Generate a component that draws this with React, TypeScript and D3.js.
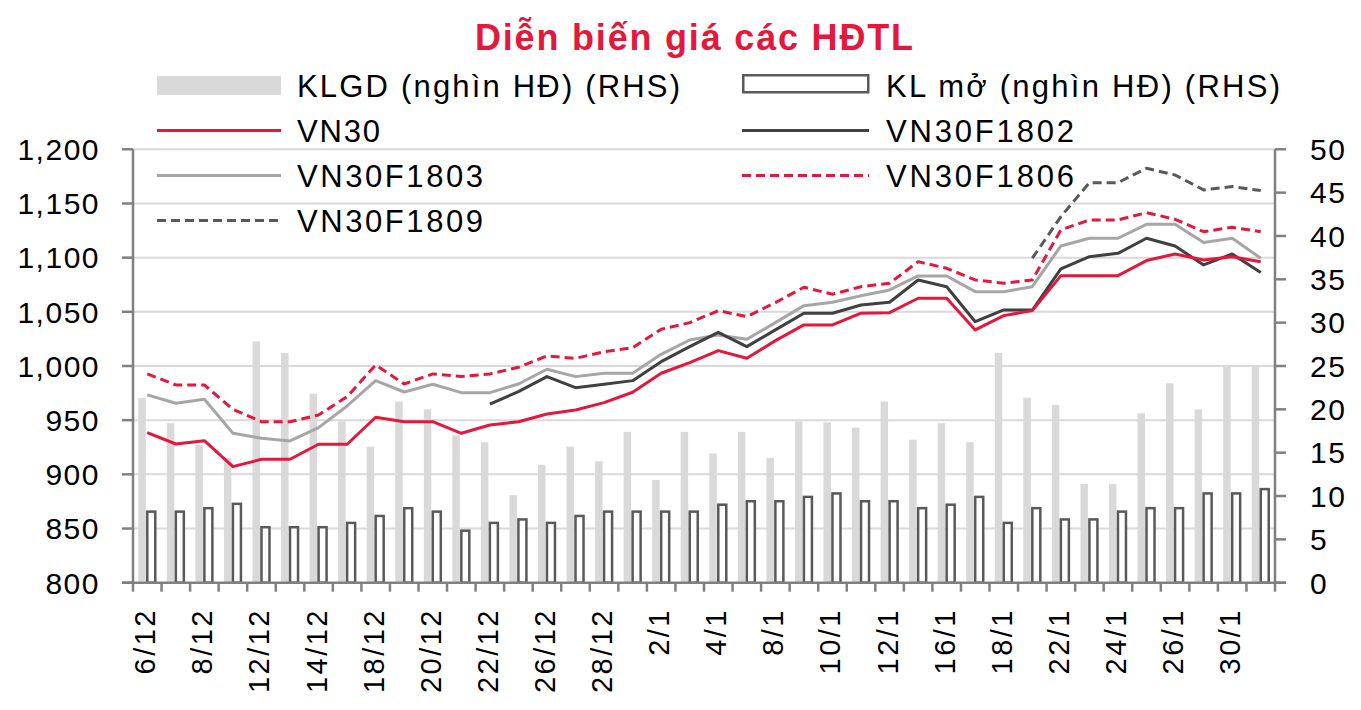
import React from "react";
import * as d3 from "d3";

const dates = [
  "6/12", "7/12", "8/12", "11/12", "12/12", "13/12", "14/12", "15/12", "18/12", "19/12",
  "20/12", "21/12", "22/12", "25/12", "26/12", "27/12", "28/12", "29/12", "2/1", "3/1",
  "4/1", "5/1", "8/1", "9/1", "10/1", "11/1", "12/1", "15/1", "16/1", "17/1",
  "18/1", "19/1", "22/1", "23/1", "24/1", "25/1", "26/1", "29/1", "30/1", "31/1",
];

// KLGD (nghìn HĐ) (RHS)
const klgd = [
  21.3, 18.4, 15.9, 14.4, 27.8, 26.5, 21.8, 18.6, 15.7, 20.9,
  20.0, 17.0, 16.2, 10.1, 13.6, 15.7, 14.0, 17.4, 11.85, 17.4,
  14.9, 17.4, 14.4, 18.6, 18.5, 17.9, 20.9, 16.5, 18.4, 16.2,
  26.5, 21.35, 20.5, 11.4, 11.4, 19.55, 23.0, 20.0, 24.9, 24.9,
];

// KL mở (nghìn HĐ) (RHS)
const klMo = [
  8.2, 8.2, 8.6, 9.1, 6.4, 6.4, 6.4, 6.9, 7.7, 8.6,
  8.2, 6.0, 6.9, 7.3, 6.9, 7.7, 8.2, 8.2, 8.2, 8.2,
  9.0, 9.4, 9.4, 9.9, 10.3, 9.4, 9.4, 8.6, 9.0, 9.9,
  6.9, 8.6, 7.3, 7.3, 8.2, 8.6, 8.6, 10.3, 10.3, 10.8,
];

const vn30 = [
  938.5, 928.0, 931.1, 907.1, 913.9, 913.9, 927.8, 927.8, 952.7, 948.6,
  948.6, 937.9, 945.6, 948.6, 955.7, 959.4, 966.2, 975.8, 993.3, 1003.1,
  1014.2, 1007.1, 1023.4, 1037.9, 1037.9, 1048.7, 1049.2, 1062.5, 1062.5, 1033.3,
  1046.5, 1051.1, 1083.4, 1083.4, 1083.4, 1097.3, 1103.4, 1097.9, 1100.9, 1096.3,
];

const f1802: (number | null)[] = [
  null, null, null, null, null, null, null, null, null, null,
  null, null, 964.9, 976.3, 990.2, 980.0, 983.1, 986.5, 1004.0, 1017.9,
  1031.1, 1017.9, 1033.3, 1048.7, 1048.7, 1056.3, 1058.8, 1079.4, 1073.2, 1040.9,
  1051.7, 1051.7, 1089.6, 1100.9, 1104.0, 1117.9, 1110.8, 1093.3, 1103.4, 1086.2,
];

const f1803 = [
  973.3, 965.6, 969.3, 937.9, 933.3, 930.8, 943.1, 963.1, 986.5, 976.0,
  983.1, 975.4, 975.4, 983.4, 997.0, 990.2, 993.3, 993.3, 1010.8, 1024.0,
  1028.6, 1024.7, 1040.0, 1055.7, 1058.8, 1064.9, 1070.2, 1083.1, 1083.1, 1068.6,
  1068.6, 1073.2, 1110.8, 1117.9, 1117.9, 1130.8, 1130.8, 1113.9, 1117.9, 1099.5,
];

const f1806 = [
  992.7, 982.5, 982.5, 960.0, 948.6, 948.6, 954.8, 971.7, 1001.0, 983.4,
  992.7, 990.2, 992.7, 998.8, 1009.3, 1007.1, 1013.2, 1016.9, 1033.9, 1040.0,
  1051.1, 1045.6, 1058.5, 1072.7, 1066.2, 1073.2, 1076.4, 1096.3, 1090.2, 1079.4,
  1076.4, 1079.4, 1125.6, 1134.8, 1134.8, 1141.5, 1135.4, 1124.0, 1128.0, 1124.0,
];

const f1809: (number | null)[] = [
  null, null, null, null, null, null, null, null, null, null,
  null, null, null, null, null, null, null, null, null, null,
  null, null, null, null, null, null, null, null, null, null,
  null, 1099.5, 1137.9, 1169.2, 1169.2, 1182.5, 1176.3, 1162.5, 1165.6, 1161.9,
];

const leftTicks = [800, 850, 900, 950, 1000, 1050, 1100, 1150, 1200];
const rightTicks = [0, 5, 10, 15, 20, 25, 30, 35, 40, 45, 50];

const title = "Diễn biến giá các HĐTL";

const RED = "#e2193c";
const AXIS = "#808080";
const GRID = "#d9d9d9";
const FONT = "'Liberation Sans', Arial, sans-serif";

export default function App() {
  const left = 133, right = 1275, top = 149.3, bottom = 582.7;
  const x = d3.scaleBand<string>().domain(dates).range([left, right]).padding(0);
  const yL = d3.scaleLinear().domain([800, 1200]).range([bottom, top]);
  const yR = d3.scaleLinear().domain([0, 50]).range([bottom, top]);
  const bw = x.bandwidth();
  const cx = (i: number) => (x(dates[i]) as number) + bw / 2;
  const fmt = d3.format(",");

  const line = d3
    .line<number | null>()
    .defined((v) => v != null)
    .x((_, i) => cx(i))
    .y((v) => yL(v as number));

  const series = [
    { name: "VN30F1803", data: f1803, color: "#a6a6a6", dash: undefined },
    { name: "VN30F1806", data: f1806, color: RED, dash: "9,5" },
    { name: "VN30F1809", data: f1809, color: "#595959", dash: "9,5" },
    { name: "VN30F1802", data: f1802, color: "#404040", dash: undefined },
    { name: "VN30", data: vn30, color: RED, dash: undefined },
  ];

  const boundaries = d3.range(dates.length + 1).map((i) => left + i * bw);

  const legendRows = [85.5, 130.5, 175.5, 220.5];
  const lx1 = 157, lx2 = 281, rx1 = 742, rx2 = 869;
  const ltx = 297, rtx = 886;
  const lfs = 31;

  return (
    <svg
      width={1361}
      height={710}
      style={{ position: "absolute", left: 0, top: 0, background: "#fff" }}
      fontFamily={FONT}
    >
      <rect x={0} y={0} width={1361} height={710} fill="#fff" />
      {/* Title */}
      <text x={475} y={50} fontSize={36} fontWeight="bold" fill={RED} textLength={438} lengthAdjust="spacing">
        {title}
      </text>

      {/* gridlines */}
      {leftTicks.slice(1).map((t) => (
        <line key={"g" + t} x1={left} x2={right} y1={yL(t)} y2={yL(t)} stroke={GRID} strokeWidth={2} />
      ))}

      {/* KLGD bars */}
      {klgd.map((v, i) => (
        <rect key={"b" + i} x={cx(i) - 9} width={7.5} y={yR(v)} height={yR(0) - yR(v)} fill="#d9d9d9" />
      ))}
      {/* KL mo bars */}
      {klMo.map((v, i) => (
        <rect
          key={"o" + i}
          x={cx(i)}
          width={8}
          y={yR(v)}
          height={yR(0) - yR(v)}
          fill="#fff"
          stroke="#595959"
          strokeWidth={2.5}
        />
      ))}

      {/* axes */}
      <g stroke={AXIS} strokeWidth={2.5}>
        <line x1={left} x2={left} y1={top} y2={bottom} />
        <line x1={right} x2={right} y1={top} y2={bottom} />
        <line x1={left - 11} x2={right + 11} y1={bottom} y2={bottom} />
        {leftTicks.map((t) => (
          <line key={"lt" + t} x1={left - 11} x2={left} y1={yL(t)} y2={yL(t)} />
        ))}
        {rightTicks.map((t) => (
          <line key={"rt" + t} x1={right} x2={right + 11} y1={yR(t)} y2={yR(t)} />
        ))}
        {boundaries.map((b, i) => (
          <line key={"bt" + i} x1={b} x2={b} y1={bottom} y2={bottom + 9} />
        ))}
      </g>

      {/* lines */}
      {series.map((s) => (
        <path
          key={s.name}
          d={line(s.data) || ""}
          fill="none"
          stroke={s.color}
          strokeWidth={3}
          strokeDasharray={s.dash}
          strokeLinejoin="round"
        />
      ))}

      {/* tick labels */}
      {leftTicks.map((t) => (
        <text key={"ll" + t} x={100} y={yL(t)} dy="0.36em" textAnchor="end" fontSize={30} letterSpacing={1.5} fill="#000">
          {fmt(t)}
        </text>
      ))}
      {rightTicks.map((t) => (
        <text key={"rl" + t} x={1310} y={yR(t)} dy="0.36em" textAnchor="start" fontSize={30} letterSpacing={1.5} fill="#000">
          {t}
        </text>
      ))}
      {dates.map((d, i) =>
        i % 2 === 0 ? (
          <text
            key={"xl" + i}
            transform={`translate(${cx(i) - 2.5},608) rotate(-90)`}
            dy="0.36em"
            textAnchor="end"
            fontSize={29}
            letterSpacing={2.5}
            fill="#000"
          >
            {d}
          </text>
        ) : null
      )}

      {/* legend */}
      <rect x={lx1} y={76} width={lx2 - lx1} height={19} fill="#d9d9d9" />
      <text x={ltx} y={legendRows[0] + 11} fontSize={lfs} textLength={383} lengthAdjust="spacing">
        KLGD (nghìn HĐ) (RHS)
      </text>
      <rect x={743.25} y={75.25} width={125} height={17} fill="#fff" stroke="#595959" strokeWidth={2.5} />
      <text x={rtx} y={legendRows[0] + 11} fontSize={lfs} textLength={394} lengthAdjust="spacing">
        KL mở (nghìn HĐ) (RHS)
      </text>

      <line x1={lx1} x2={lx2} y1={legendRows[1]} y2={legendRows[1]} stroke={RED} strokeWidth={3} />
      <text x={ltx} y={legendRows[1] + 11} fontSize={lfs} textLength={83} lengthAdjust="spacing">VN30</text>
      <line x1={rx1} x2={rx2} y1={legendRows[1]} y2={legendRows[1]} stroke="#404040" strokeWidth={3} />
      <text x={rtx} y={legendRows[1] + 11} fontSize={lfs} textLength={188} lengthAdjust="spacing">VN30F1802</text>

      <line x1={lx1} x2={lx2} y1={legendRows[2]} y2={legendRows[2]} stroke="#a6a6a6" strokeWidth={3} />
      <text x={ltx} y={legendRows[2] + 11} fontSize={lfs} textLength={186} lengthAdjust="spacing">VN30F1803</text>
      <line x1={rx1} x2={rx2} y1={legendRows[2]} y2={legendRows[2]} stroke={RED} strokeWidth={3} strokeDasharray="9,5" />
      <text x={rtx} y={legendRows[2] + 11} fontSize={lfs} textLength={188} lengthAdjust="spacing">VN30F1806</text>

      <line x1={lx1} x2={lx2} y1={legendRows[3]} y2={legendRows[3]} stroke="#595959" strokeWidth={3} strokeDasharray="9,5" />
      <text x={ltx} y={legendRows[3] + 11} fontSize={lfs} textLength={186} lengthAdjust="spacing">VN30F1809</text>
    </svg>
  );
}
